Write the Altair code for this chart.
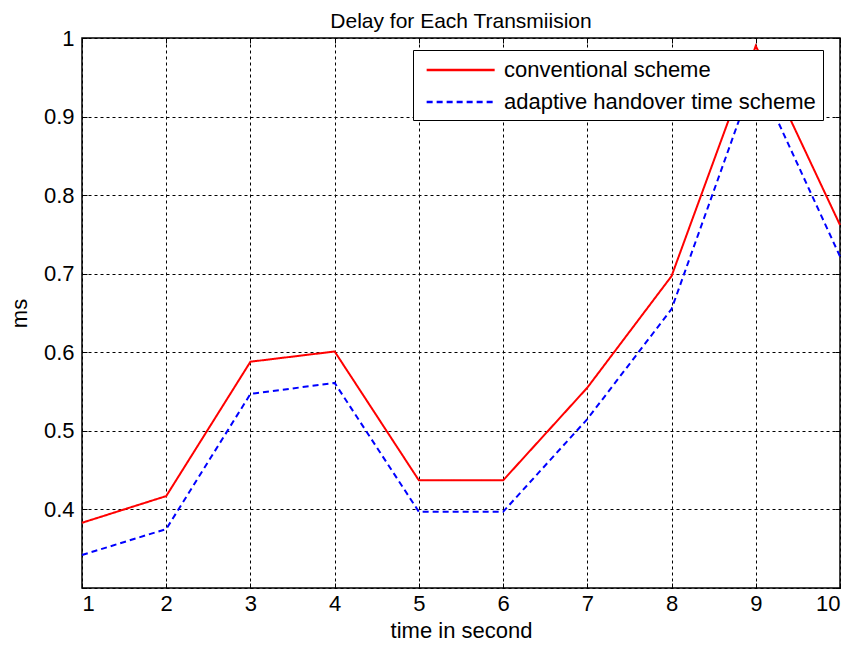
import altair as alt
import pandas as pd

time_s = [1, 2, 3, 4, 5, 6, 7, 8, 9, 10]
conventional = [0.383, 0.417, 0.588, 0.601, 0.437, 0.437, 0.555, 0.697, 0.990, 0.762]
adaptive = [0.342, 0.375, 0.547, 0.561, 0.397, 0.397, 0.515, 0.655, 0.955, 0.722]
series_names = ["conventional scheme", "adaptive handover time scheme"]
x_ticks = [1, 2, 3, 4, 5, 6, 7, 8, 9, 10]
y_ticks = [0.3, 0.4, 0.5, 0.6, 0.7, 0.8, 0.9, 1.0]

rows = []
for t, c, a in zip(time_s, conventional, adaptive):
    rows.append({"t": t, "v": c, "s": series_names[0]})
    rows.append({"t": t, "v": a, "s": series_names[1]})
df = pd.DataFrame(rows)

FONT = "Liberation Sans, Arial, sans-serif"
xscale = alt.Scale(domain=[1, 10], nice=False, zero=False)
yscale = alt.Scale(domain=[0.3, 1.0], nice=False, zero=False)

base = alt.Chart(df)

lines = base.mark_line(strokeWidth=2).encode(
    x=alt.X("t:Q", scale=xscale,
            axis=alt.Axis(values=x_ticks, title="time in second", format="d", orient="bottom",
                          labelFontSize=22, titleFontSize=22, labelPadding=5, titlePadding=6,
                          grid=True, ticks=False)),
    y=alt.Y("v:Q", scale=yscale,
            axis=alt.Axis(values=y_ticks, title="ms", format=".1~f", orient="left",
                          labelExpr="datum.value < 0.35 ? '' : datum.label",
                          labelFontSize=22, titleFontSize=22, labelPadding=8, titlePadding=12,
                          grid=True, ticks=False)),
    color=alt.Color("s:N", scale=alt.Scale(domain=series_names, range=["#ff0000", "#0000ff"]),
                    legend=alt.Legend(title=None, orient="none", legendX=331, legendY=12,
                                      symbolType="M-0.56,0H5.44", symbolSize=514,
                                      symbolStrokeWidth=2.5,
                                      labelFontSize=22, labelLimit=600, fillColor="white",
                                      strokeColor="black", padding=7, labelOffset=58,
                                      rowPadding=8)),
    strokeDash=alt.StrokeDash("s:N", scale=alt.Scale(domain=series_names, range=[[1, 0], [6, 4]]),
                              legend=None),
)


def tick_layer(xorient, yorient):
    return base.mark_point(opacity=0).encode(
        x=alt.X("t:Q", scale=xscale,
                axis=alt.Axis(values=x_ticks, orient=xorient, offset=-5, tickSize=5, labels=False,
                              title=None, grid=False, ticks=True, domain=False, tickColor="black")),
        y=alt.Y("v:Q", scale=yscale,
                axis=alt.Axis(values=y_ticks, orient=yorient, offset=-5, tickSize=5, labels=False,
                              title=None, grid=False, ticks=True, domain=False, tickColor="black")),
    )


chart = alt.layer(lines, tick_layer("bottom", "left"), tick_layer("top", "right")).resolve_axis(
    x="independent", y="independent"
).properties(
    width=758, height=550,
    title=alt.Title("Delay for Each Transmiision", fontSize=21, fontWeight="normal", offset=0, dy=5),
    padding={"left": 74, "top": 30, "right": 8, "bottom": 62},
    autosize=alt.AutoSizeParams(type="none"),
).configure(font=FONT).configure_axis(
    gridColor="black", gridDash=[3, 3], gridOpacity=1, gridWidth=1,
    domain=False, labelColor="black", titleColor="black",
    titleFontWeight="normal",
).configure_view(stroke="black", strokeWidth=1.5).configure_legend(
    labelColor="black"
)

chart.save("out.html", embed_options={"renderer": "svg", "actions": False})
